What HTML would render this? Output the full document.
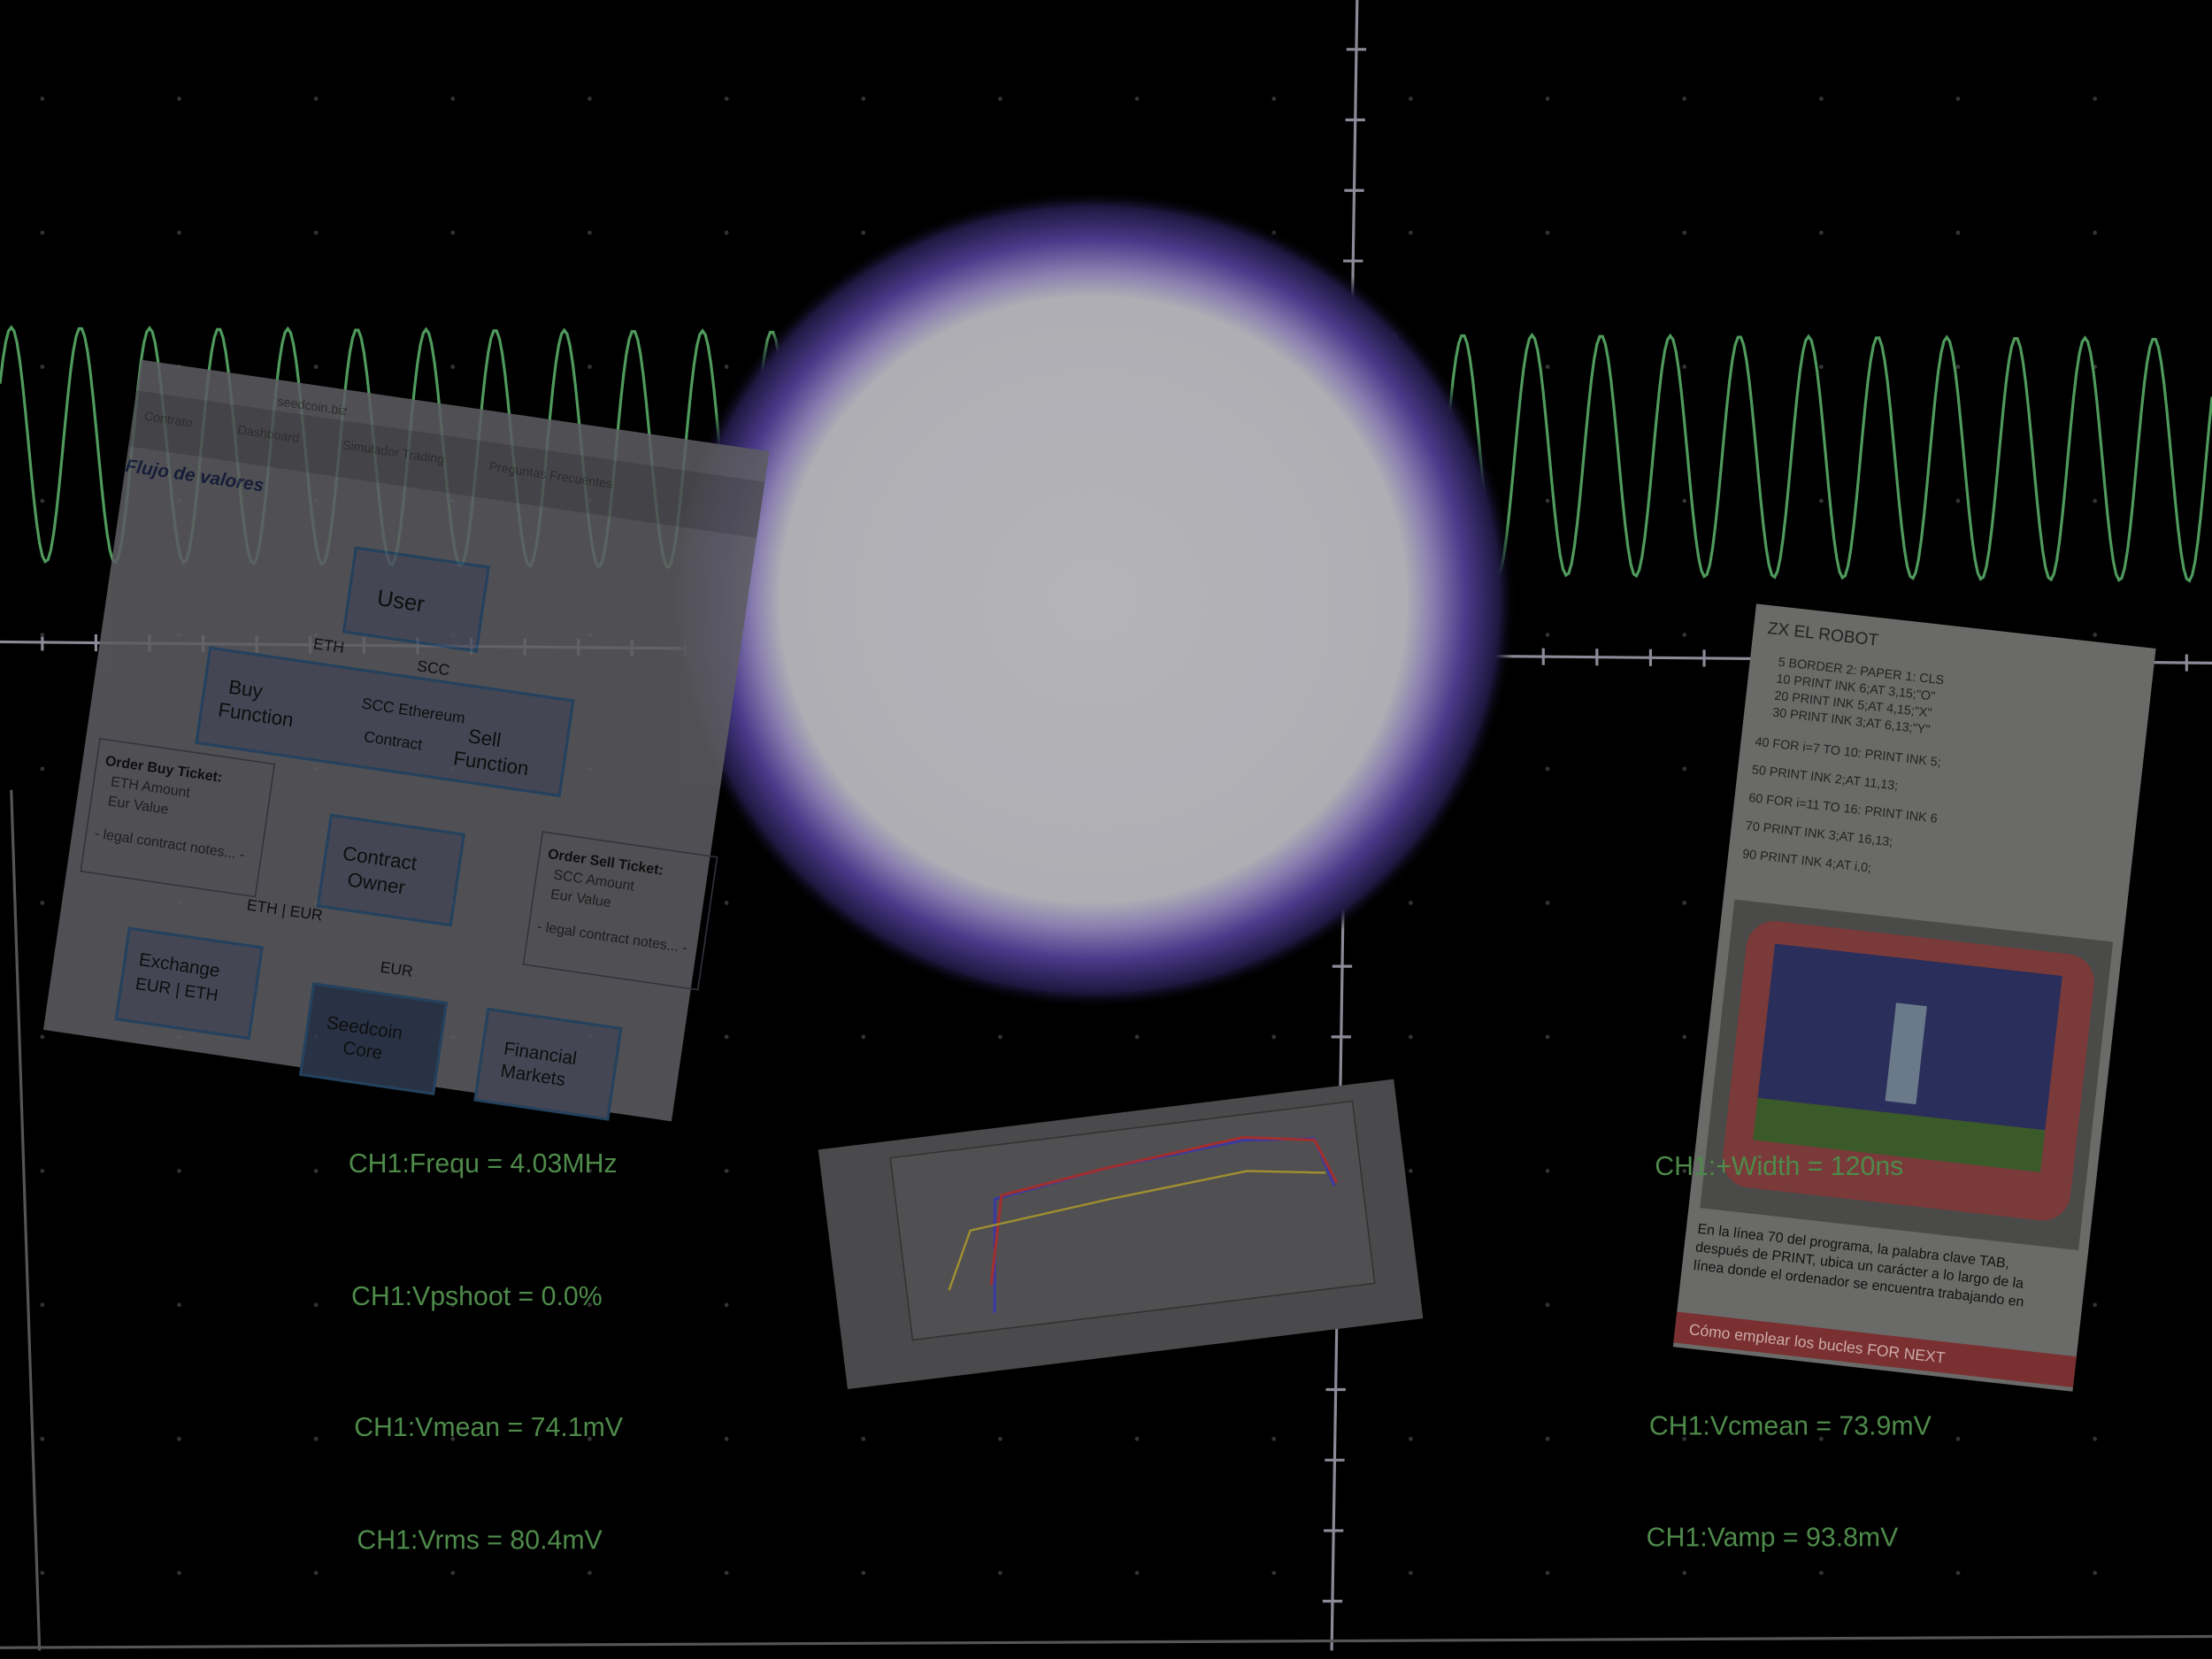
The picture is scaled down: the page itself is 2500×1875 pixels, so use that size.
<!DOCTYPE html>
<html><head><meta charset="utf-8"><style>
html,body{margin:0;padding:0;background:#000;}
svg{display:block;}
text{font-family:"Liberation Sans",sans-serif;}
</style></head><body>
<svg id="scope" width="2500" height="1875" viewBox="0 0 1568 1176" preserveAspectRatio="none" xmlns="http://www.w3.org/2000/svg">
<defs>
<radialGradient id="blob" cx="0.5" cy="0.5" r="0.5">
<stop offset="0" stop-color="#b4b4b8"/>
<stop offset="0.74" stop-color="#aeaeb4"/>
<stop offset="0.8" stop-color="#8a80b0"/>
<stop offset="0.88" stop-color="#4a3a8a"/>
<stop offset="0.96" stop-color="#1e1840"/>
<stop offset="1" stop-color="#000" stop-opacity="0"/>
</radialGradient>
</defs>
<rect width="1568" height="1176" fill="#000"/>
<g id="grid" stroke="#8a8a98" stroke-width="2" fill="none">
<line x1="962" y1="0" x2="944" y2="1170"/>
<line x1="0" y1="455" x2="1568" y2="470"/>
<line x1="0" y1="1168" x2="1568" y2="1160" stroke="#555"/>
<line x1="8" y1="560" x2="28" y2="1170" stroke="#555"/>
</g>
<g id="ticks" stroke="#8a8a98" stroke-width="2"></g>
<g id="dots" fill="#333"></g>
<path id="wave" fill="none" stroke="#4f9a5c" stroke-width="2"/>
<ellipse cx="775" cy="425" rx="300" ry="290" fill="url(#blob)"/>

<g opacity="0.88" transform="translate(100,255) rotate(8.3)">
<rect width="450" height="480" fill="#5c5c60"/>
<rect y="22" width="450" height="40" fill="#4e4e52"/>
<text x="100" y="18" font-size="9" fill="#333">seedcoin.biz</text>
<text x="8" y="42" font-size="9" fill="#333">Contrato</text><text x="75" y="42" font-size="9" fill="#333">Dashboard</text><text x="150" y="42" font-size="9" fill="#333">Simulador Trading</text><text x="255" y="42" font-size="9" fill="#333">Preguntas Frecuentes</text>
<text x="0" y="80" font-size="13" font-style="italic" font-weight="bold" fill="#1a2240">Flujo de valores</text>
<rect x="170" y="110" width="95" height="60" fill="#4e5060" stroke="#2a4a6a" stroke-width="2"/><text x="190" y="148" font-size="16" fill="#111">User</text>
<rect x="78" y="195" width="260" height="68" fill="#4e5060" stroke="#2a4a6a" stroke-width="2"/>
<text x="95" y="225" font-size="14" fill="#111">Buy</text><text x="90" y="242" font-size="14" fill="#111">Function</text>
<text x="190" y="222" font-size="11" fill="#111">SCC Ethereum</text><text x="195" y="245" font-size="11" fill="#111">Contract</text>
<text x="268" y="235" font-size="14" fill="#111">Sell</text><text x="260" y="252" font-size="14" fill="#111">Function</text>
<text x="150" y="185" font-size="11" fill="#111">ETH</text><text x="225" y="190" font-size="11" fill="#111">SCC</text>
<rect x="10" y="270" width="125" height="95" fill="none" stroke="#3a3a46"/>
<text x="16" y="288" font-size="10" font-weight="bold" fill="#111">Order Buy Ticket:</text><text x="22" y="302" font-size="10" fill="#222">ETH Amount</text><text x="22" y="316" font-size="10" fill="#222">Eur Value</text><text x="16" y="340" font-size="10" fill="#222">- legal contract notes... -</text>
<rect x="180" y="300" width="95" height="65" fill="#4e5060" stroke="#2a4a6a" stroke-width="2"/><text x="192" y="330" font-size="14" fill="#111">Contract</text><text x="198" y="348" font-size="14" fill="#111">Owner</text>
<rect x="330" y="290" width="125" height="95" fill="none" stroke="#3a3a46"/>
<text x="336" y="308" font-size="10" font-weight="bold" fill="#111">Order Sell Ticket:</text><text x="342" y="322" font-size="10" fill="#222">SCC Amount</text><text x="342" y="336" font-size="10" fill="#222">Eur Value</text><text x="336" y="360" font-size="10" fill="#222">- legal contract notes... -</text>
<text x="130" y="375" font-size="11" fill="#111">ETH | EUR</text><text x="230" y="405" font-size="11" fill="#111">EUR</text>
<rect x="50" y="400" width="95" height="65" fill="#4e5060" stroke="#2a4a6a" stroke-width="2"/><text x="60" y="425" font-size="13" fill="#111">Exchange</text><text x="60" y="442" font-size="12" fill="#111">EUR | ETH</text>
<rect x="185" y="420" width="95" height="65" fill="#2e3a4e" stroke="#2a4a6a" stroke-width="2"/><text x="198" y="450" font-size="13" fill="#111">Seedcoin</text><text x="212" y="466" font-size="13" fill="#111">Core</text>
<rect x="310" y="420" width="95" height="65" fill="#4e5060" stroke="#2a4a6a" stroke-width="2"/><text x="325" y="450" font-size="13" fill="#111">Financial</text><text x="325" y="466" font-size="13" fill="#111">Markets</text>
</g>

<g transform="translate(580,815) rotate(-7)">
<rect width="411" height="171" fill="#4a4a4c"/>
<rect x="50" y="12" width="330" height="130" fill="#505052" stroke="#333"/>
<polyline points="110,130 120,50 200,38 300,30 350,35 360,70" fill="none" stroke="#3a3aa0" stroke-width="2"/>
<polyline points="110,110 125,48 200,38 300,28 350,36 362,68" fill="none" stroke="#a03030" stroke-width="2"/>
<polyline points="80,110 100,70 200,60 300,52 355,60" fill="none" stroke="#a09030" stroke-width="1.5"/>
</g>

<g transform="translate(1245,428) rotate(6.4)">
<rect width="285" height="530" fill="#6a6a68"/>
<text x="10" y="20" font-size="12" fill="#222">ZX EL ROBOT</text>
<g font-family="Liberation Mono" font-size="9" fill="#222">
<text x="20" y="42">5 BORDER 2: PAPER 1: CLS</text><text x="20" y="54">10 PRINT INK 6;AT 3,15;"O"</text><text x="20" y="66">20 PRINT INK 5;AT 4,15;"X"</text><text x="20" y="78">30 PRINT INK 3;AT 6,13;"Y"</text><text x="10" y="100">40 FOR i=7 TO 10: PRINT INK 5;</text><text x="10" y="120">50 PRINT INK 2;AT 11,13;</text><text x="10" y="140">60 FOR i=11 TO 16: PRINT INK 6</text><text x="10" y="160">70 PRINT INK 3;AT 16,13;</text><text x="10" y="180">90 PRINT INK 4;AT i,0;</text>
</g>
<rect x="8" y="210" width="270" height="220" fill="#4a4a48"/>
<rect x="20" y="222" width="248" height="190" rx="20" fill="#7a3a3a"/>
<rect x="40" y="238" width="205" height="110" fill="#2a2e5a"/>
<rect x="40" y="348" width="205" height="30" fill="#3a5a2a"/>
<rect x="130" y="270" width="22" height="70" fill="#6a7a8a"/>
<text x="8" y="448" font-size="10" fill="#111">En la línea 70 del programa, la palabra clave TAB,</text>
<text x="8" y="461" font-size="10" fill="#111">después de PRINT, ubica un carácter a lo largo de la</text>
<text x="8" y="474" font-size="10" fill="#111">línea donde el ordenador se encuentra trabajando en</text>
<rect x="0" y="505" width="285" height="22" fill="#7a3030"/><text x="10" y="520" font-size="11" fill="#caa">Cómo emplear los bucles FOR NEXT</text>
</g>

<g font-size="19" fill="#4e8a4a">
<text x="247" y="831">CH1:Frequ = 4.03MHz</text>
<text x="249" y="925">CH1:Vpshoot = 0.0%</text>
<text x="251" y="1018">CH1:Vmean = 74.1mV</text>
<text x="253" y="1098">CH1:Vrms = 80.4mV</text>
<text x="1173" y="833">CH1:+Width = 120ns</text>
<text x="1169" y="1017">CH1:Vcmean = 73.9mV</text>
<text x="1167" y="1096">CH1:Vamp = 93.8mV</text>
</g>
</svg>
<script>
// waveform parameters
const waveTop = [232, 240];      // peak y (left, right)
const waveBottom = [398, 412];   // trough y
const wavePeriod = [49];
const waveStartX = [8];
const NS='http://www.w3.org/2000/svg';
(function(){
  let d='';
  for(let x=0;x<=1568;x+=2){
    const f=x/1568;
    const top=waveTop[0]+(waveTop[1]-waveTop[0])*f;
    const bot=waveBottom[0]+(waveBottom[1]-waveBottom[0])*f;
    const mid=(top+bot)/2, amp=(bot-top)/2;
    const y=mid-amp*Math.cos(2*Math.PI*(x-waveStartX[0])/wavePeriod[0]);
    d+=(x?'L':'M')+x+','+y.toFixed(1);
  }
  document.getElementById('wave').setAttribute('d',d);
  const tg=document.getElementById('ticks');
  for(let y=35;y<1170;y+=50){
    const x=962-18*y/1170;
    const l=document.createElementNS(NS,'line');
    
    
    l.setAttribute('x1',x-7);l.setAttribute('x2',x+7);l.setAttribute('y1',y);l.setAttribute('y2',y);
    tg.appendChild(l);
  }
  for(let x=30;x<1568;x+=38){
    const y=455+15*x/1568;
    const l=document.createElementNS(NS,'line');
    
    
    l.setAttribute('x1',x);l.setAttribute('x2',x);l.setAttribute('y1',y-6);l.setAttribute('y2',y+6);
    tg.appendChild(l);
  }
  const dg=document.getElementById('dots');
  for(let gy=0;gy<12;gy++)for(let gx=0;gx<16;gx++){
    const c=document.createElementNS(NS,'circle');
    
    
    c.setAttribute('cx',30+gx*97);c.setAttribute('cy',70+gy*95);c.setAttribute('r',1.5);
    dg.appendChild(c);
  }
})();
</script>
</body></html>
